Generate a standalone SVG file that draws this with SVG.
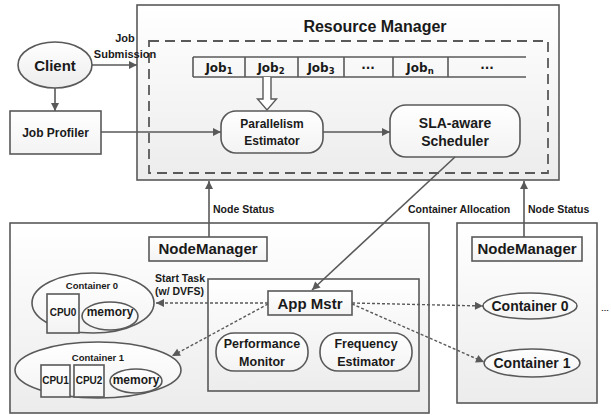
<svg xmlns="http://www.w3.org/2000/svg" width="611" height="415" viewBox="0 0 611 415">
<style>
  text { font-family: "Liberation Sans", Arial, sans-serif; font-weight: bold; fill: #1a1a1a; }
  .box { stroke: #595959; stroke-width: 1.6; fill: url(#g1); }
  .wbox { stroke: #595959; stroke-width: 1.6; fill: url(#g2); }
  .ln { stroke: #595959; stroke-width: 1.6; fill: none; }
  .dl { stroke: #595959; stroke-width: 1.4; fill: none; stroke-dasharray: 3 2; }
  .job { font-family: "DejaVu Sans", Verdana, sans-serif; font-size: 12px; }
  .c { text-anchor: middle; }
</style>
<defs>
  <linearGradient id="g1" x1="0" y1="0" x2="0" y2="1">
    <stop offset="0" stop-color="#ffffff"/>
    <stop offset="1" stop-color="#ececec"/>
  </linearGradient>
  <linearGradient id="g2" x1="0" y1="0" x2="0" y2="1">
    <stop offset="0" stop-color="#ffffff"/>
    <stop offset="1" stop-color="#f3f3f3"/>
  </linearGradient>
  <marker id="ar" viewBox="0 0 10 10" refX="10" refY="5" markerWidth="9" markerHeight="8" markerUnits="userSpaceOnUse" orient="auto">
    <path d="M0,0 L10,5 L0,10 z" fill="#595959"/>
  </marker>
</defs>

<!-- Resource Manager -->
<g id="resource-manager">
  <rect class="box" x="137" y="5" width="422" height="175"/>
  <rect x="149" y="41" width="399" height="132" fill="none" stroke="#595959" stroke-width="1.8" stroke-dasharray="10 6"/>
  <text class="c" x="375" y="32" font-size="16">Resource Manager</text>
</g>

<g id="job-queue">
  <path class="ln" d="M193,57 H526 M193,77 H526 M193,57 V77 M245,57 V77 M298,57 V77 M344,57 V77 M393,57 V77 M448,57 V77" stroke-width="1.4"/>
  <text class="job c" x="219" y="72">Job<tspan font-size="8.5" dy="2">1</tspan></text>
  <text class="job c" x="271" y="72">Job<tspan font-size="8.5" dy="2">2</tspan></text>
  <text class="job c" x="321" y="72">Job<tspan font-size="8.5" dy="2">3</tspan></text>
  <text class="job c" x="368" y="72">···</text>
  <text class="job c" x="420" y="72">Job<tspan font-size="8.5" dy="2">n</tspan></text>
  <text class="job c" x="487" y="72">···</text>
</g>

<g id="parallelism-estimator">
  <rect class="wbox" x="221" y="111" width="102" height="42" rx="15"/>
  <text class="c" x="272" y="128" font-size="12">Parallelism</text>
  <text class="c" x="272" y="145" font-size="12">Estimator</text>
</g>

<g id="sla-scheduler">
  <rect class="wbox" x="390" y="105" width="130" height="52" rx="16"/>
  <text class="c" x="455" y="128" font-size="14">SLA-aware</text>
  <text class="c" x="455" y="146" font-size="14">Scheduler</text>
</g>

<g id="client">
  <ellipse class="box" cx="55" cy="65" rx="37" ry="23"/>
  <text class="c" x="55" y="71" font-size="15">Client</text>
</g>

<g id="job-profiler">
  <rect class="wbox" x="10" y="111" width="91" height="43"/>
  <text class="c" x="55.5" y="137" font-size="12">Job Profiler</text>
</g>

<!-- Left node -->
<g id="node-left">
  <rect class="box" x="10" y="223" width="419" height="190"/>
</g>
<g id="nodemanager-left">
  <rect class="wbox" x="149" y="237" width="118" height="24"/>
  <text class="c" x="208" y="254" font-size="15">NodeManager</text>
</g>
<g id="container0-left">
  <ellipse class="wbox" cx="93" cy="303" rx="61" ry="30"/>
  <text class="c" x="92" y="289" font-size="9.5">Container 0</text>
  <rect class="wbox" x="47" y="294" width="32" height="39"/>
  <text class="c" x="63" y="316" font-size="10">CPU0</text>
  <ellipse class="wbox" cx="110" cy="316" rx="28" ry="14"/>
  <text class="c" x="110" y="316" font-size="12">memory</text>
</g>
<g id="container1-left">
  <ellipse class="wbox" cx="98" cy="370" rx="83" ry="28"/>
  <rect class="wbox" x="41" y="365" width="29" height="32"/>
  <text class="c" x="55.5" y="384" font-size="10">CPU1</text>
  <rect class="wbox" x="74" y="365" width="30" height="32"/>
  <text class="c" x="89" y="384" font-size="10">CPU2</text>
  <ellipse class="wbox" cx="136" cy="381" rx="26" ry="12"/>
  <text class="c" x="136" y="384" font-size="12">memory</text>
  <text class="c" x="98" y="361" font-size="9.5">Container 1</text>
</g>
<g id="app-master-area">
  <rect class="box" x="208" y="279" width="211" height="112"/>
</g>
<g id="app-mstr">
  <rect class="wbox" x="268" y="291" width="84" height="24"/>
  <text class="c" x="310" y="309" font-size="15">App Mstr</text>
</g>
<g id="performance-monitor">
  <rect class="wbox" x="216" y="333" width="92" height="38" rx="18"/>
  <text class="c" x="262" y="348" font-size="12.5">Performance</text>
  <text class="c" x="262" y="366" font-size="12.5">Monitor</text>
</g>
<g id="frequency-estimator">
  <rect class="wbox" x="320" y="333" width="92" height="38" rx="18"/>
  <text class="c" x="366" y="348" font-size="12.5">Frequency</text>
  <text class="c" x="366" y="366" font-size="12.5">Estimator</text>
</g>

<!-- Right node -->
<g id="node-right">
  <rect class="box" x="457" y="223" width="140" height="180"/>
</g>
<g id="nodemanager-right">
  <rect class="wbox" x="472" y="237" width="110" height="24"/>
  <text class="c" x="527" y="254" font-size="15">NodeManager</text>
</g>
<g id="container0-right">
  <ellipse class="wbox" cx="530" cy="306" rx="47" ry="13"/>
  <text class="c" x="530" y="311" font-size="14">Container 0</text>
</g>
<g id="container1-right">
  <ellipse class="wbox" cx="532" cy="363" rx="48" ry="14"/>
  <text class="c" x="532" y="368" font-size="14">Container 1</text>
</g>
<text x="601" y="311" font-size="8">…</text>

<!-- Connectors -->
<g id="connectors">
  <line class="ln" x1="92" y1="65" x2="137" y2="65" marker-end="url(#ar)"/>
  <line class="ln" x1="55" y1="88" x2="55" y2="111" marker-end="url(#ar)"/>
  <line class="ln" x1="101" y1="132" x2="221" y2="132" marker-end="url(#ar)"/>
  <line class="ln" x1="323" y1="132" x2="390" y2="132" marker-end="url(#ar)"/>
  <path d="M263,77 V99 H257.5 L267,110 L276.5,99 H271 V77" fill="#ffffff" stroke="#595959" stroke-width="1.4"/>
  <line class="ln" x1="209" y1="237" x2="209" y2="181" marker-end="url(#ar)"/>
  <line class="ln" x1="524" y1="237" x2="524" y2="181" marker-end="url(#ar)"/>
  <line class="ln" x1="455" y1="157" x2="312" y2="290" marker-end="url(#ar)"/>
  <line class="dl" x1="268" y1="303" x2="156" y2="303" marker-end="url(#ar)"/>
  <line class="dl" x1="268" y1="304" x2="172" y2="356" marker-end="url(#ar)"/>
  <line class="dl" x1="352" y1="303" x2="483" y2="306" marker-end="url(#ar)"/>
  <line class="dl" x1="352" y1="304" x2="484" y2="362" marker-end="url(#ar)"/>
  <text class="c" x="125" y="42" font-size="11">Job</text>
  <text class="c" x="125" y="58" font-size="11">Submission</text>
  <text x="213" y="213" font-size="10.5">Node Status</text>
  <text x="408" y="213" font-size="10.5">Container Allocation</text>
  <text x="528" y="213" font-size="10.5">Node Status</text>
  <text x="155" y="282" font-size="10.5">Start Task</text>
  <text x="155" y="295" font-size="10.5">(w/ DVFS)</text>
</g>
</svg>
